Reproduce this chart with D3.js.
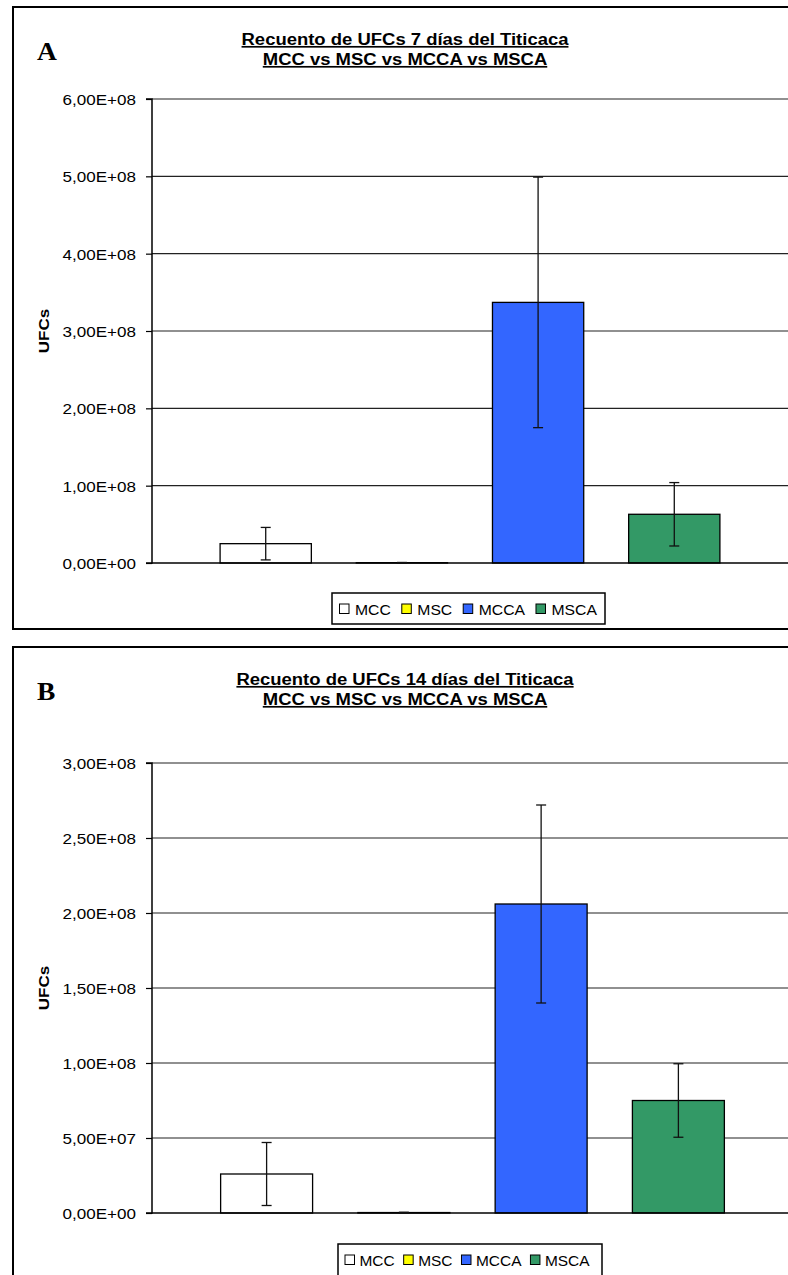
<!DOCTYPE html>
<html><head><meta charset="utf-8">
<script src="https://cdn.jsdelivr.net/npm/d3@7"></script>
<style>
html,body{margin:0;padding:0;background:#fff;}
svg{display:block;}
text{font-family:Arial,"Liberation Sans",sans-serif;}
</style></head>
<body>
<svg id="c" width="788" height="1275"></svg>
<script>
// ---- data ----
const series = ["MCC", "MSC", "MCCA", "MSCA"];
const titleA = ["Recuento de UFCs 7 días del Titicaca", "MCC vs MSC vs MCCA vs MSCA"];
const titleB = ["Recuento de UFCs 14 días del Titicaca", "MCC vs MSC vs MCCA vs MSCA"];
const valuesA = [2.5e7, 4e5, 3.37e8, 6.3e7];
const errorsA = [2.1e7, 3e5, 1.62e8, 4.1e7];
const valuesB = [2.6e7, 3e5, 2.06e8, 7.5e7];
const errorsB = [2.1e7, 2e5, 6.6e7, 2.45e7];
const ticksA = [0, 1e8, 2e8, 3e8, 4e8, 5e8, 6e8];
const tickLabelsA = ["0,00E+00", "1,00E+08", "2,00E+08", "3,00E+08", "4,00E+08", "5,00E+08", "6,00E+08"];
const ticksB = [0, 5e7, 1e8, 1.5e8, 2e8, 2.5e8, 3e8];
const tickLabelsB = ["0,00E+00", "5,00E+07", "1,00E+08", "1,50E+08", "2,00E+08", "2,50E+08", "3,00E+08"];
const yLabel = "UFCs";

// ---- styles ----
const color = d3.scaleOrdinal().domain(series).range(["#ffffff", "#ffff00", "#3366ff", "#339966"]);
const SX = 1.1; // horizontal stretch of the original rendering's text

const svg = d3.select("#c");

function stext(parent, x, y, str, sx) {
  return parent.append("text").attr("transform", `translate(${x},${y}) scale(${sx || SX},1)`).text(str);
}

function drawPanel(cfg) {
  const g = svg.append("g");
  g.append("rect").attr("x", cfg.frame[0]).attr("y", cfg.frame[1])
    .attr("width", cfg.frame[2]).attr("height", cfg.frame[3])
    .attr("fill", "#fff").attr("stroke", "#000").attr("stroke-width", 2);

  stext(g, 37, cfg.letterY, cfg.letter)
    .style("font-family", "'Liberation Serif','Times New Roman',serif")
    .style("font-weight", "bold").style("font-size", "25px");

  cfg.title.forEach((t, i) => {
    stext(g, cfg.titleX, cfg.titleY + i * 20, t)
      .attr("text-anchor", "middle").style("font-weight", "bold").style("font-size", "16.8px")
      .style("text-decoration", "underline");
  });

  const x = d3.scaleBand().domain(series).range([cfg.left, cfg.right]).paddingInner(0.33).paddingOuter(0.5);
  const y = d3.scaleLinear().domain(cfg.domain).range([cfg.bottom, cfg.top]);

  g.append("g").selectAll("line").data(cfg.ticks.filter(d => d > 0)).join("line")
    .attr("x1", cfg.left).attr("x2", cfg.right + 10)
    .attr("y1", d => y(d)).attr("y2", d => y(d))
    .attr("stroke", "#222").attr("stroke-width", 1.2);

  const axis = d3.axisLeft(y).tickValues(cfg.ticks).tickSize(6).tickPadding(10)
    .tickFormat((d, i) => cfg.tickLabels[i]);
  const ax = g.append("g").attr("transform", `translate(${cfg.left},0)`).call(axis);
  ax.select(".domain").attr("stroke", "#000").attr("stroke-width", 1.5).attr("d", `M-6,${cfg.top}H0V${cfg.bottom}H-6`);
  ax.selectAll(".tick line").attr("stroke", "#000").attr("stroke-width", 1.2);
  ax.selectAll(".tick text")
    .attr("x", null).attr("dy", null)
    .attr("transform", `translate(-16,5.5) scale(${SX},1)`)
    .style("font-size", "15.5px").style("font-family", "Arial,'Liberation Sans',sans-serif").attr("fill", "#000");

  g.append("text").attr("transform", `translate(48.5,${(cfg.top + cfg.bottom) / 2}) rotate(-90) scale(${SX},1)`)
    .attr("text-anchor", "middle").style("font-weight", "bold").style("font-size", "15.5px").text(yLabel);

  g.append("g").selectAll("rect").data(series).join("rect")
    .attr("x", d => x(d)).attr("width", x.bandwidth())
    .attr("y", (d, i) => y(cfg.values[i]))
    .attr("height", (d, i) => y(0) - y(cfg.values[i]))
    .attr("fill", d => color(d)).attr("stroke", "#000").attr("stroke-width", 1.3);

  g.append("line").attr("x1", cfg.left).attr("x2", cfg.right + 10)
    .attr("y1", y(0)).attr("y2", y(0)).attr("stroke", "#000").attr("stroke-width", 1.5);

  const eb = g.append("g").attr("stroke", "#111").attr("stroke-width", 1.3);
  series.forEach((s, i) => {
    const cx = x(s) + x.bandwidth() / 2;
    const hi = y(cfg.values[i] + cfg.errors[i]);
    const lo = y(Math.max(0, cfg.values[i] - cfg.errors[i]));
    eb.append("line").attr("x1", cx).attr("x2", cx).attr("y1", hi).attr("y2", lo);
    eb.append("line").attr("x1", cx - 5).attr("x2", cx + 5).attr("y1", hi).attr("y2", hi);
    eb.append("line").attr("x1", cx - 5).attr("x2", cx + 5).attr("y1", lo).attr("y2", lo);
  });

  const L = cfg.legend;
  const lg = g.append("g");
  lg.append("rect").attr("x", L.box[0]).attr("y", L.box[1])
    .attr("width", L.box[2]).attr("height", L.box[3])
    .attr("fill", "#fff").attr("stroke", "#000").attr("stroke-width", 1.5);
  let cx = L.box[0] + L.pad;
  const ty = L.box[1] + 22;
  series.forEach(s => {
    lg.append("rect").attr("x", cx).attr("y", ty - 11).attr("width", 9.5).attr("height", 9.5)
      .attr("fill", color(s)).attr("stroke", "#000").attr("stroke-width", 1);
    const t = stext(lg, cx + 9.5 + L.gap1, ty, s, L.sx).style("font-size", "14.3px");
    cx += 9.5 + L.gap1 + t.node().getComputedTextLength() * L.sx + L.gap2;
  });
}

drawPanel({
  frame: [13, 7, 790, 622], letter: "A", letterY: 60,
  title: titleA, titleX: 405, titleY: 45,
  left: 152, right: 788, top: 99, bottom: 563, domain: [0, 6e8],
  ticks: ticksA, tickLabels: tickLabelsA, values: valuesA, errors: errorsA,
  legend: { box: [332, 593, 273, 31], pad: 7.5, gap1: 6, gap2: 11, sx: 1.1 }
});
drawPanel({
  frame: [13, 647, 790, 700], letter: "B", letterY: 700,
  title: titleB, titleX: 405, titleY: 685,
  left: 152, right: 793, top: 763, bottom: 1213, domain: [0, 3e8],
  ticks: ticksB, tickLabels: tickLabelsB, values: valuesB, errors: errorsB,
  legend: { box: [338, 1244, 264, 40], pad: 7, gap1: 5, gap2: 9, sx: 1.08 }
});
</script>
</body></html>
